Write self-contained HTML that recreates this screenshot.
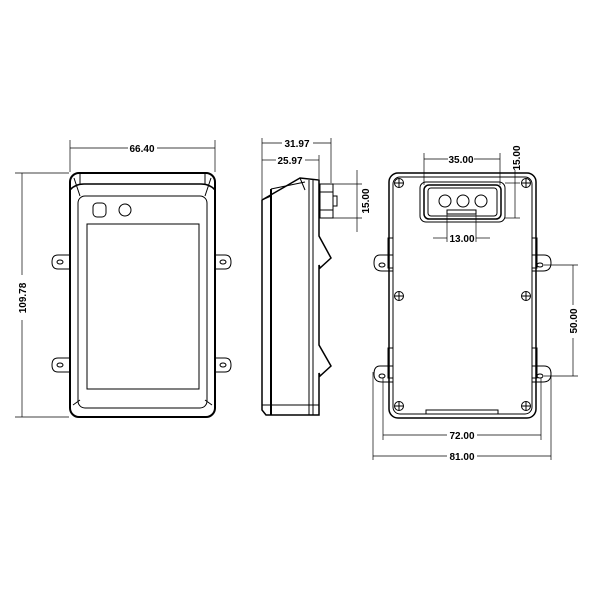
<!DOCTYPE html>
<html><head><style>body{margin:0;background:#fff}svg{display:block}text{font-family:"Liberation Sans",sans-serif;font-size:10px;font-weight:bold;fill:#000}</style></head><body>
<svg width="600" height="600" viewBox="0 0 600 600" xmlns="http://www.w3.org/2000/svg" fill="none" stroke="#000" stroke-width="1">
<!-- FRONT VIEW -->
<g>
<rect x="70" y="173" width="145" height="244" rx="9" stroke-width="2"/>
<path d="M70 190 Q75 184 84 184 L201 184 Q210 184 215 190" stroke-width="1.5"/>
<rect x="78" y="196" width="129" height="212" rx="7"/>
<line x1="74" y1="178" x2="80" y2="196"/><line x1="211" y1="178" x2="205" y2="196"/>
<line x1="80" y1="184" x2="80" y2="173"/><line x1="205" y1="184" x2="205" y2="173"/>
<line x1="73" y1="405" x2="80" y2="400"/><line x1="212" y1="405" x2="205" y2="400"/>
<rect x="87" y="224" width="112" height="165"/>
<rect x="93" y="203" width="13" height="14" rx="4"/>
<circle cx="125" cy="210" r="6"/>
<path d="M70 255 L58 255 Q52 255 52 262 Q52 269 58 269 L70 269"/><ellipse cx="60" cy="262" rx="3" ry="2"/>
<path d="M70 358 L58 358 Q52 358 52 365 Q52 372 58 372 L70 372"/><ellipse cx="60" cy="365" rx="3" ry="2"/>
<path d="M215 255 L225 255 Q231 255 231 262 Q231 269 225 269 L215 269"/><ellipse cx="223" cy="262" rx="3" ry="2"/>
<path d="M215 358 L225 358 Q231 358 231 365 Q231 372 225 372 L215 372"/><ellipse cx="223" cy="365" rx="3" ry="2"/>
<!-- dims -->
<line x1="70" y1="140" x2="70" y2="172" stroke-width="0.7"/><line x1="215" y1="140" x2="215" y2="172" stroke-width="0.7"/>
<line x1="70" y1="148" x2="128" y2="148" stroke-width="0.7"/><line x1="157" y1="148" x2="215" y2="148" stroke-width="0.7"/>
<text x="142" y="152" text-anchor="middle" stroke="none">66.40</text>
<line x1="15" y1="173" x2="69" y2="173" stroke-width="0.7"/><line x1="15" y1="417" x2="69" y2="417" stroke-width="0.7"/>
<line x1="22" y1="173" x2="22" y2="275" stroke-width="0.7"/><line x1="22" y1="320" x2="22" y2="417" stroke-width="0.7"/>
<text transform="translate(26,298) rotate(-90)" text-anchor="middle" stroke="none">109.78</text>
</g>
<!-- SIDE VIEW -->
<g>
<path d="M262 200 L300 178 L319 180 L319 236 L331 258 L320 268 L319 265 L319 345 L331 366 L320 376 L319 373 L319 415 L266 415 L262 410 Z" stroke-width="1.5"/>
<line x1="271" y1="189" x2="271" y2="415" stroke-width="2"/>
<line x1="262" y1="200" x2="271" y2="196"/>
<line x1="309" y1="180" x2="309" y2="415"/><line x1="313" y1="180" x2="313" y2="415"/>
<line x1="300" y1="178" x2="305" y2="190"/><line x1="271" y1="189" x2="305" y2="182"/>
<line x1="262" y1="405" x2="319" y2="405"/>
<rect x="320" y="184" width="13" height="34"/>
<line x1="320" y1="192" x2="333" y2="192"/><line x1="320" y1="210" x2="333" y2="210"/>
<rect x="333" y="196" width="4" height="10"/>
<line x1="262" y1="138" x2="262" y2="199" stroke-width="0.7"/><line x1="331" y1="138" x2="331" y2="183" stroke-width="0.7"/><line x1="319" y1="155" x2="319" y2="179" stroke-width="0.7"/>
<line x1="262" y1="143" x2="282" y2="143" stroke-width="0.7"/><line x1="313" y1="143" x2="331" y2="143" stroke-width="0.7"/>
<text x="297" y="147" text-anchor="middle" stroke="none">31.97</text>
<line x1="262" y1="160" x2="276" y2="160" stroke-width="0.7"/><line x1="305" y1="160" x2="319" y2="160" stroke-width="0.7"/>
<text x="290" y="164" text-anchor="middle" stroke="none">25.97</text>
<line x1="333" y1="184" x2="362" y2="184" stroke-width="0.7"/><line x1="333" y1="218" x2="362" y2="218" stroke-width="0.7"/>
<line x1="357" y1="170" x2="357" y2="232" stroke-width="0.7"/>
<text transform="translate(369,201) rotate(-90)" text-anchor="middle" stroke="none">15.00</text>
</g>
<!-- BACK VIEW -->
<g>
<rect x="389" y="173" width="147" height="245" rx="9" stroke-width="1.5"/>
<rect x="393" y="177" width="139" height="237" rx="7"/>
<g stroke-width="1">
<circle cx="399" cy="183" r="4.5"/><circle cx="526" cy="183" r="4.5"/>
<circle cx="399" cy="296" r="4.5"/><circle cx="526" cy="296" r="4.5"/>
<circle cx="399" cy="406" r="4.5"/><circle cx="526" cy="406" r="4.5"/>
<path d="M394.5 183h9M399 178.5v9M521.5 183h9M526 178.5v9M394.5 296h9M399 291.5v9M521.5 296h9M526 291.5v9M394.5 406h9M399 401.5v9M521.5 406h9M526 401.5v9"/>
</g>
<rect x="420" y="182" width="85" height="40" rx="6"/>
<rect x="424" y="185" width="77" height="34" rx="5" stroke-width="1.5"/>
<rect x="428" y="188" width="69" height="28" rx="3"/>
<circle cx="445" cy="201" r="6"/><circle cx="463" cy="201" r="6"/><circle cx="481" cy="201" r="6"/>
<rect x="447" y="210" width="29" height="4"/>
<rect x="426" y="410" width="72" height="4"/>
<path d="M393 240 L393 255 L380 255 Q374 255 374 263 Q374 271 382 271 L393 271"/><rect x="388" y="238" width="5" height="30"/><ellipse cx="382" cy="265" rx="3" ry="2"/>
<path d="M393 350 L393 366 L380 366 Q374 366 374 374 Q374 382 382 382 L393 382"/><rect x="388" y="348" width="5" height="30"/><ellipse cx="382" cy="376" rx="3" ry="2"/>
<path d="M532 240 L532 255 L544 255 Q551 255 551 263 Q551 271 543 271 L532 271"/><rect x="532" y="238" width="5" height="30"/><ellipse cx="540" cy="265" rx="3" ry="2"/>
<path d="M532 350 L532 366 L544 366 Q551 366 551 374 Q551 382 543 382 L532 382"/><rect x="532" y="348" width="5" height="30"/><ellipse cx="540" cy="376" rx="3" ry="2"/>
<!-- dims -->
<line x1="424" y1="153" x2="424" y2="185" stroke-width="0.7"/><line x1="500" y1="153" x2="500" y2="185" stroke-width="0.7"/>
<line x1="424" y1="159" x2="448" y2="159" stroke-width="0.7"/><line x1="474" y1="159" x2="500" y2="159" stroke-width="0.7"/>
<text x="461" y="163" text-anchor="middle" stroke="none">35.00</text>
<line x1="505" y1="183" x2="520" y2="183" stroke-width="0.7"/><line x1="505" y1="218" x2="520" y2="218" stroke-width="0.7"/>
<line x1="515" y1="170" x2="515" y2="218" stroke-width="0.7"/>
<text transform="translate(520,158) rotate(-90)" text-anchor="middle" stroke="none">15.00</text>
<line x1="447" y1="214" x2="447" y2="242" stroke-width="0.7"/><line x1="476" y1="214" x2="476" y2="242" stroke-width="0.7"/>
<line x1="433" y1="238" x2="447" y2="238" stroke-width="0.7"/><line x1="476" y1="238" x2="490" y2="238" stroke-width="0.7"/>
<text x="462" y="242" text-anchor="middle" stroke="none">13.00</text>
<line x1="544" y1="265" x2="578" y2="265" stroke-width="0.7"/><line x1="544" y1="376" x2="578" y2="376" stroke-width="0.7"/>
<line x1="573" y1="265" x2="573" y2="305" stroke-width="0.7"/><line x1="573" y1="338" x2="573" y2="376" stroke-width="0.7"/>
<text transform="translate(577,321) rotate(-90)" text-anchor="middle" stroke="none">50.00</text>
<line x1="383" y1="378" x2="383" y2="440" stroke-width="0.7"/><line x1="541" y1="378" x2="541" y2="440" stroke-width="0.7"/>
<line x1="383" y1="435" x2="447" y2="435" stroke-width="0.7"/><line x1="477" y1="435" x2="541" y2="435" stroke-width="0.7"/>
<text x="462" y="439" text-anchor="middle" stroke="none">72.00</text>
<line x1="373" y1="372" x2="373" y2="460" stroke-width="0.7"/><line x1="551" y1="372" x2="551" y2="460" stroke-width="0.7"/>
<line x1="373" y1="456" x2="447" y2="456" stroke-width="0.7"/><line x1="477" y1="456" x2="551" y2="456" stroke-width="0.7"/>
<text x="462" y="460" text-anchor="middle" stroke="none">81.00</text>
</g>
</svg>
</body></html>
